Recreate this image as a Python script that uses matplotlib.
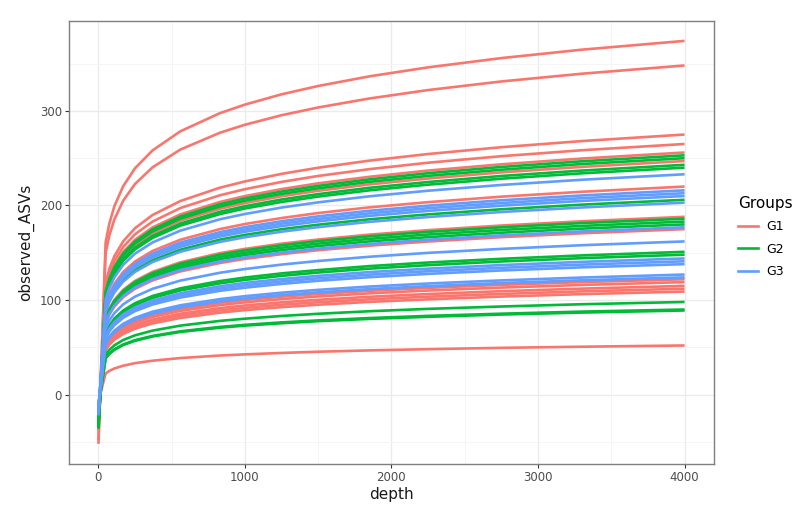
import matplotlib
matplotlib.use("Agg")
import matplotlib.pyplot as plt
from matplotlib.lines import Line2D

# Rarefaction depths at which each curve is read
depths = [1, 50, 75, 110, 170, 250, 370, 560, 830, 1000, 1250, 1500,
          1850, 2250, 2750, 3300, 4000]

# observed ASVs per sample (one list per curve)
g1_curves = [
    [-52, 160.9, 180.7, 199.3, 220.4, 239.2, 258.2, 278.4, 297.6, 306.6, 317.5, 326.3, 336.5, 346.0, 355.8, 364.7, 374],
    [-48, 149.7, 168.1, 185.4, 205.1, 222.6, 240.3, 259.1, 276.9, 285.3, 295.4, 303.6, 313.1, 322.0, 331.1, 339.3, 348],
    [-38, 118.3, 132.9, 146.5, 162.1, 175.9, 189.9, 204.7, 218.8, 225.4, 233.4, 239.9, 247.4, 254.4, 261.6, 268.1, 275],
    [-36, 114.0, 128.0, 141.2, 156.2, 169.5, 183.0, 197.3, 210.8, 217.2, 224.9, 231.2, 238.4, 245.2, 252.1, 258.4, 265],
    [-35, 110.2, 123.7, 136.4, 150.9, 163.7, 176.8, 190.6, 203.7, 209.9, 217.3, 223.4, 230.3, 236.9, 243.5, 249.6, 256],
    [-34, 106.3, 119.3, 131.6, 145.6, 158.0, 170.6, 183.9, 196.5, 202.5, 209.7, 215.5, 222.3, 228.5, 235.0, 240.8, 247],
    [-30, 94.7, 106.3, 117.2, 129.7, 140.7, 151.9, 163.8, 175.0, 180.4, 186.7, 192.0, 198.0, 203.5, 209.3, 214.5, 220],
    [-26, 80.9, 90.8, 100.2, 110.8, 120.2, 129.8, 139.9, 149.6, 154.1, 159.6, 164.0, 169.2, 173.9, 178.8, 183.3, 188],
    [-24, 75.3, 84.5, 93.2, 103.1, 111.9, 120.8, 130.3, 139.2, 143.5, 148.5, 152.7, 157.5, 161.9, 166.5, 170.6, 175],
    [-17, 52.5, 58.9, 65.0, 71.9, 78.0, 84.2, 90.8, 97.1, 100.0, 103.6, 106.4, 109.8, 112.9, 116.1, 119.0, 122],
    [-16, 51.2, 57.5, 63.4, 70.1, 76.1, 82.2, 88.6, 94.7, 97.6, 101.0, 103.8, 107.1, 110.1, 113.2, 116.0, 119],
    [-16, 49.5, 55.6, 61.3, 67.8, 73.6, 79.4, 85.6, 91.5, 94.3, 97.6, 100.3, 103.5, 106.4, 109.4, 112.1, 115],
    [-15, 48.2, 54.1, 59.7, 66.0, 71.6, 77.3, 83.4, 89.1, 91.8, 95.1, 97.7, 100.8, 103.6, 106.5, 109.2, 112],
    [-15, 46.9, 52.7, 58.1, 64.2, 69.7, 75.3, 81.1, 86.7, 89.4, 92.5, 95.1, 98.1, 100.8, 103.7, 106.3, 109],
    [-7, 22.4, 25.1, 27.7, 30.6, 33.3, 35.9, 38.7, 41.4, 42.6, 44.1, 45.4, 46.8, 48.1, 49.5, 50.7, 52],
]
g2_curves = [
    [-36, 108.9, 122.2, 134.8, 149.1, 161.8, 174.7, 188.3, 201.3, 207.4, 214.7, 220.7, 227.6, 234.1, 240.7, 246.7, 253],
    [-35, 107.6, 120.8, 133.2, 147.4, 159.9, 172.6, 186.1, 198.9, 205.0, 212.2, 218.1, 225.0, 231.3, 237.8, 243.8, 250],
    [-34, 104.6, 117.4, 129.5, 143.2, 155.4, 167.8, 180.9, 193.3, 199.2, 206.3, 212.0, 218.7, 224.8, 231.2, 236.9, 243],
    [-33, 103.3, 115.9, 127.9, 141.5, 153.5, 165.7, 178.7, 190.9, 196.8, 203.7, 209.4, 216.0, 222.0, 228.3, 234.0, 240],
    [-29, 88.6, 99.5, 109.8, 121.4, 131.8, 142.2, 153.3, 163.9, 168.9, 174.9, 179.7, 185.4, 190.6, 196.0, 200.9, 206],
    [-26, 80.0, 89.9, 99.1, 109.6, 119.0, 128.4, 138.5, 148.0, 152.5, 157.9, 162.3, 167.4, 172.1, 176.9, 181.4, 186],
    [-26, 78.7, 88.4, 97.5, 107.9, 117.0, 126.4, 136.2, 145.6, 150.0, 155.3, 159.7, 164.7, 169.3, 174.1, 178.4, 183],
    [-25, 77.5, 87.0, 95.9, 106.1, 115.1, 124.3, 134.0, 143.2, 147.6, 152.8, 157.1, 162.0, 166.5, 171.2, 175.5, 180],
    [-21, 65.0, 72.9, 80.5, 89.0, 96.6, 104.3, 112.4, 120.1, 123.8, 128.2, 131.7, 135.9, 139.7, 143.6, 147.2, 151],
    [-21, 63.7, 71.5, 78.9, 87.2, 94.7, 102.2, 110.2, 117.7, 121.3, 125.6, 129.1, 133.2, 136.9, 140.8, 144.3, 148],
    [-14, 42.2, 47.3, 52.2, 57.8, 62.7, 67.7, 73.0, 78.0, 80.3, 83.2, 85.5, 88.2, 90.7, 93.2, 95.6, 98],
    [-13, 38.7, 43.5, 48.0, 53.0, 57.6, 62.1, 67.0, 71.6, 73.8, 76.4, 78.5, 81.0, 83.3, 85.6, 87.8, 90],
    [-12, 38.3, 43.0, 47.4, 52.5, 56.9, 61.5, 66.3, 70.8, 73.0, 75.5, 77.7, 80.1, 82.3, 84.7, 86.8, 89],
]
g3_curves = [
    [-22, 100.3, 112.6, 124.1, 137.3, 149.0, 160.9, 173.4, 185.4, 191.0, 197.8, 203.3, 209.7, 215.6, 221.7, 227.2, 233],
    [-20, 92.9, 104.3, 115.1, 127.3, 138.2, 149.1, 160.8, 171.8, 177.1, 183.3, 188.5, 194.4, 199.8, 205.5, 210.6, 216],
    [-20, 91.7, 102.9, 113.5, 125.5, 136.2, 147.1, 158.6, 169.5, 174.6, 180.8, 185.8, 191.7, 197.1, 202.6, 207.7, 213],
    [-19, 90.4, 101.5, 111.9, 123.8, 134.3, 145.0, 156.3, 167.1, 172.2, 178.2, 183.2, 189.0, 194.3, 199.8, 204.8, 210],
    [-19, 87.4, 98.1, 108.2, 119.6, 129.8, 140.2, 151.1, 161.5, 166.4, 172.3, 177.1, 182.7, 187.8, 193.1, 197.9, 203],
    [-17, 76.2, 85.5, 94.3, 104.3, 113.2, 122.2, 131.8, 140.8, 145.1, 150.2, 154.4, 159.3, 163.8, 168.4, 172.6, 177],
    [-16, 69.7, 78.3, 86.3, 95.5, 103.6, 111.9, 120.6, 128.9, 132.8, 137.5, 141.3, 145.8, 149.9, 154.1, 158.0, 162],
    [-15, 62.0, 69.6, 76.7, 84.9, 92.1, 99.4, 107.2, 114.6, 118.1, 122.2, 125.6, 129.6, 133.2, 137.0, 140.4, 144],
    [-14, 60.7, 68.1, 75.1, 83.1, 90.2, 97.4, 105.0, 112.2, 115.6, 119.7, 123.0, 126.9, 130.5, 134.1, 137.5, 141],
    [-14, 59.4, 66.7, 73.5, 81.3, 88.3, 95.3, 102.7, 109.8, 113.1, 117.1, 120.4, 124.2, 127.7, 131.3, 134.6, 138],
    [-13, 54.6, 61.4, 67.7, 74.9, 81.2, 87.7, 94.5, 101.0, 104.1, 107.8, 110.8, 114.3, 117.5, 120.8, 123.8, 127],
    [-13, 53.4, 59.9, 66.1, 73.1, 79.3, 85.6, 92.3, 98.7, 101.7, 105.3, 108.2, 111.6, 114.7, 118.0, 120.9, 124],
]

group_names = ["G1", "G2", "G3"]
group_colors = ["#F8766D", "#00BA38", "#619CFF"]
x_ticks = [0, 1000, 2000, 3000, 4000]
y_ticks = [0, 100, 200, 300]

fig = plt.figure(figsize=(8.03, 5.13), dpi=100)
ax = fig.add_axes([0.0859, 0.0955, 0.8031, 0.8641])

for curves, col in zip([g1_curves, g2_curves, g3_curves], group_colors):
    for c in curves:
        ax.plot(depths, c, color=col, lw=1.9, solid_capstyle="butt",
                solid_joinstyle="round", zorder=3)

ax.set_xlim(-200, 4200)
ax.set_ylim(-73.3, 395.3)
ax.set_xticks(x_ticks)
ax.set_yticks(y_ticks)
ax.set_xticks([500, 1500, 2500, 3500], minor=True)
ax.set_yticks([-50, 50, 150, 250, 350], minor=True)
ax.grid(True, which="major", color="#EBEBEB", lw=1.0, zorder=0)
ax.grid(True, which="minor", color="#F4F4F4", lw=0.6, zorder=0)
ax.set_axisbelow(True)
for s in ax.spines.values():
    s.set_color("#7F7F7F")
    s.set_linewidth(1.0)
ax.tick_params(which="major", length=3, width=0.8, color="#333333",
               labelsize=8.5, labelcolor="#4D4D4D", pad=2)
ax.tick_params(which="minor", length=0)
ax.set_xlabel("depth", fontsize=11, color="#1A1A1A", labelpad=2)
ax.set_ylabel("observed_ASVs", fontsize=11, color="#1A1A1A", labelpad=4)

handles = [Line2D([0], [0], color=c, lw=1.9) for c in group_colors]
leg = fig.legend(handles, group_names, title="Groups", loc="upper left",
                 bbox_to_anchor=(0.905, 0.64), frameon=False,
                 fontsize=9, title_fontsize=11, handlelength=1.6,
                 labelspacing=0.75, handletextpad=0.7)
leg._legend_box.align = "left"

fig.savefig("out.png", dpi=100)
